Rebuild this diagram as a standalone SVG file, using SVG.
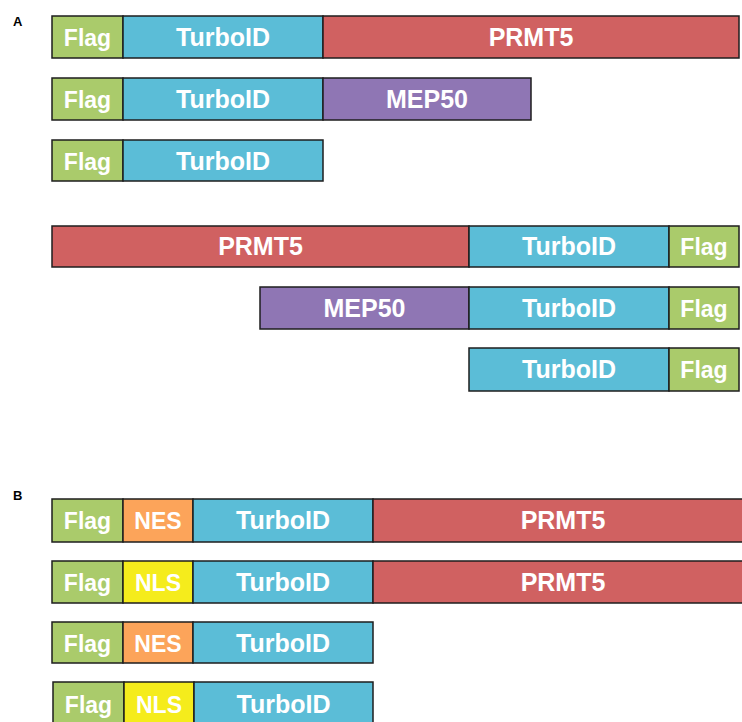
<svg xmlns="http://www.w3.org/2000/svg" width="742" height="722" viewBox="0 0 742 722">
<style>
rect{stroke:#1e1e1e;stroke-width:1.5}
.flag{fill:#aacb6b}.tid{fill:#5bbdd7}.prmt{fill:#d06161}.mep{fill:#8f76b4}.nes{fill:#fca45a}.nls{fill:#f5ec1c}
text{font-family:"Liberation Sans",Arial,sans-serif;font-weight:bold;fill:#fff;text-anchor:middle}
.s{font-size:23px}.l{font-size:25px}
.lab{font-size:13px;fill:#000;text-anchor:start}
</style>
<rect width="742" height="722" fill="#fff" style="stroke:none"/>
<text class="lab" x="13" y="26">A</text>
<text class="lab" x="13" y="500">B</text>
<g id="a1">
<rect class="flag" x="52" y="16" width="71" height="42"/><rect class="tid" x="123" y="16" width="200" height="42"/><rect class="prmt" x="323" y="16" width="416" height="42"/>
<text class="s" x="87.5" y="46">Flag</text><text class="l" x="223" y="46">TurboID</text><text class="l" x="531" y="46">PRMT5</text>
</g>
<g id="a2">
<rect class="flag" x="52" y="78" width="71" height="42"/><rect class="tid" x="123" y="78" width="200" height="42"/><rect class="mep" x="323" y="78" width="208" height="42"/>
<text class="s" x="87.5" y="108">Flag</text><text class="l" x="223" y="108">TurboID</text><text class="l" x="427" y="108">MEP50</text>
</g>
<g id="a3">
<rect class="flag" x="52" y="140" width="71" height="41"/><rect class="tid" x="123" y="140" width="200" height="41"/>
<text class="s" x="87.5" y="170">Flag</text><text class="l" x="223" y="170">TurboID</text>
</g>
<g id="a4">
<rect class="prmt" x="52" y="226" width="417" height="41"/><rect class="tid" x="469" y="226" width="200" height="41"/><rect class="flag" x="669" y="226" width="70" height="41"/>
<text class="l" x="260.5" y="255">PRMT5</text><text class="l" x="569" y="255">TurboID</text><text class="s" x="704" y="255">Flag</text>
</g>
<g id="a5">
<rect class="mep" x="260" y="287" width="209" height="42"/><rect class="tid" x="469" y="287" width="200" height="42"/><rect class="flag" x="669" y="287" width="70" height="42"/>
<text class="l" x="364.5" y="317">MEP50</text><text class="l" x="569" y="317">TurboID</text><text class="s" x="704" y="317">Flag</text>
</g>
<g id="a6">
<rect class="tid" x="469" y="348" width="200" height="43"/><rect class="flag" x="669" y="348" width="70" height="43"/>
<text class="l" x="569" y="378">TurboID</text><text class="s" x="704" y="378">Flag</text>
</g>
<g id="b1">
<rect class="flag" x="52" y="499" width="71" height="43"/><rect class="nes" x="123" y="499" width="70" height="43"/><rect class="tid" x="193" y="499" width="180" height="43"/><rect class="prmt" x="373" y="499" width="372" height="43"/>
<text class="s" x="87.5" y="529">Flag</text><text class="s" x="158" y="529">NES</text><text class="l" x="283" y="529">TurboID</text><text class="l" x="563" y="529">PRMT5</text>
</g>
<g id="b2">
<rect class="flag" x="52" y="561" width="71" height="42"/><rect class="nls" x="123" y="561" width="70" height="42"/><rect class="tid" x="193" y="561" width="180" height="42"/><rect class="prmt" x="373" y="561" width="372" height="42"/>
<text class="s" x="87.5" y="591">Flag</text><text class="s" x="158" y="591">NLS</text><text class="l" x="283" y="591">TurboID</text><text class="l" x="563" y="591">PRMT5</text>
</g>
<g id="b3">
<rect class="flag" x="52" y="622" width="71" height="41"/><rect class="nes" x="123" y="622" width="70" height="41"/><rect class="tid" x="193" y="622" width="180" height="41"/>
<text class="s" x="87.5" y="652">Flag</text><text class="s" x="158" y="652">NES</text><text class="l" x="283" y="652">TurboID</text>
</g>
<g id="b4">
<rect class="flag" x="53" y="682" width="71" height="44"/><rect class="nls" x="124" y="682" width="70" height="44"/><rect class="tid" x="194" y="682" width="179" height="44"/>
<text class="s" x="88.5" y="713">Flag</text><text class="s" x="159" y="713">NLS</text><text class="l" x="283.5" y="713">TurboID</text>
</g>
<g id="connectors"/>
</svg>
